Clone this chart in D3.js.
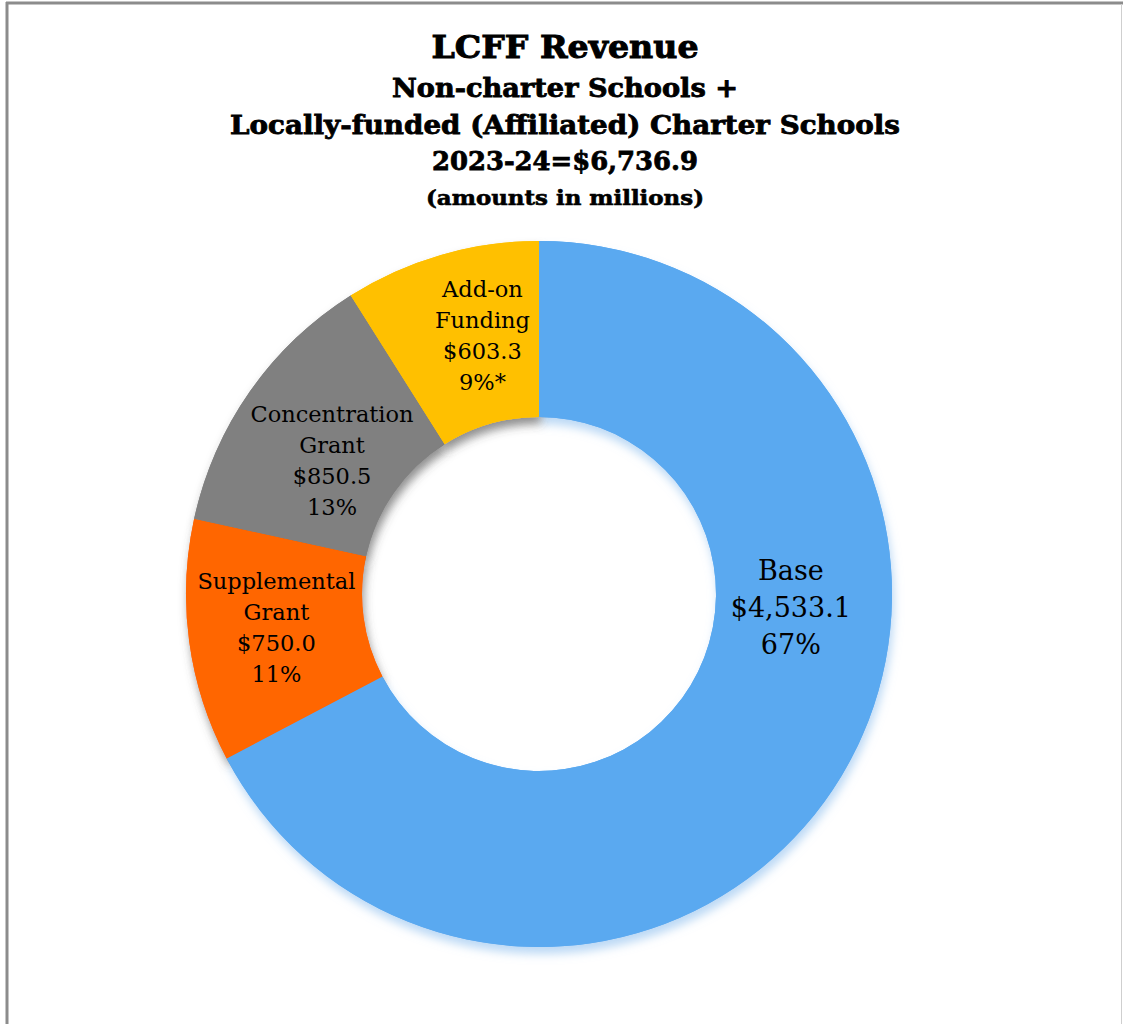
<!DOCTYPE html>
<html><head><meta charset="utf-8">
<script src="https://cdn.jsdelivr.net/npm/d3@7"></script>
<style>html,body{margin:0;padding:0;background:#fff;}svg{display:block;}</style>
</head><body>
<svg id="chart" width="1123" height="1024"></svg>
<script>
// ---- data ----
const categories = ["Base", "Supplemental Grant", "Concentration Grant", "Add-on Funding"];
const values = [4533.1, 750.0, 850.5, 603.3];
const labelLines = [
  ["Base", "$4,533.1", "67%"],
  ["Supplemental", "Grant", "$750.0", "11%"],
  ["Concentration", "Grant", "$850.5", "13%"],
  ["Add-on", "Funding", "$603.3", "9%*"]
];
const titleLines = ["LCFF Revenue", "Non-charter Schools +", "Locally-funded (Affiliated) Charter Schools", "2023-24=$6,736.9", "(amounts in millions)"];

// ---- style ----
const colors = ["#5AA9F0", "#FF6600", "#808080", "#FFC000"];
const shadowColors = ["#8fc0ee", "#555555", "#444444", "#444444"];
const labelOffsets = [[25, -123], [0, -2], [10, 19], [17, -4]];
const labelSize = [27, 22.5, 22.5, 22.5];
const labelLH = [37, 31, 31, 31];

const svg = d3.select("#chart");
const W = 1123, H = 1024;

// frame
svg.append("line").attr("x1", 7).attr("x2", 7).attr("y1", 2).attr("y2", H).attr("stroke", "#8c8c8c").attr("stroke-width", 3);
svg.append("line").attr("x1", 6).attr("x2", W).attr("y1", 3).attr("y2", 3).attr("stroke", "#8c8c8c").attr("stroke-width", 3);
svg.append("line").attr("x1", W - 1.5).attr("x2", W - 1.5).attr("y1", 4).attr("y2", H).attr("stroke", "#cfcfcf").attr("stroke-width", 1);

// title
const titleSpec = [
  {y: 58, size: 32, len: 267, sw: 1.0},
  {y: 97, size: 26, len: 346, sw: 0.8},
  {y: 134, size: 26, len: 670, sw: 0.8},
  {y: 170, size: 26, len: 266, sw: 0.8},
  {y: 205, size: 21, len: 278, sw: 0.6}
];
titleLines.forEach((t, i) => {
  svg.append("text")
    .attr("x", 565).attr("y", titleSpec[i].y)
    .attr("text-anchor", "middle")
    .attr("font-family", "DejaVu Serif, serif")
    .attr("font-weight", "bold")
    .attr("font-size", titleSpec[i].size)
    .attr("textLength", titleSpec[i].len)
    .attr("lengthAdjust", "spacingAndGlyphs")
    .attr("fill", "#000")
    .attr("stroke", "#000")
    .attr("stroke-width", titleSpec[i].sw)
    .text(t);
});

// donut
const cx = 539, cy = 594, outerR = 353, innerR = 177;
const data = categories.map((c, i) => ({cat: c, value: values[i], i}));
const pie = d3.pie().value(d => d.value).sort(null);
const arcs = pie(data);
const arc = d3.arc().innerRadius(innerR).outerRadius(outerR);
const midArc = d3.arc().innerRadius((innerR + outerR) / 2).outerRadius((innerR + outerR) / 2);

const defs = svg.append("defs");
shadowColors.forEach((c, i) => {
  const f = defs.append("filter").attr("id", "sh" + i)
    .attr("x", "-20%").attr("y", "-20%").attr("width", "140%").attr("height", "140%");
  f.append("feDropShadow").attr("dx", 2).attr("dy", 7).attr("stdDeviation", 5)
    .attr("flood-color", c).attr("flood-opacity", 0.6);
});

const g = svg.append("g").attr("transform", `translate(${cx},${cy})`);
g.selectAll("path.shadow").data(arcs).join("path")
  .attr("class", "shadow")
  .attr("d", arc)
  .attr("fill", d => colors[d.data.i])
  .attr("filter", d => `url(#sh${d.data.i})`);
g.selectAll("path.slice").data(arcs).join("path")
  .attr("class", "slice")
  .attr("d", arc)
  .attr("fill", d => colors[d.data.i]);

// labels
arcs.forEach(d => {
  const i = d.data.i;
  const [mx, my] = midArc.centroid(d);
  const lx = mx + labelOffsets[i][0], ly = my + labelOffsets[i][1];
  const lines = labelLines[i];
  const n = lines.length;
  const t = g.append("text")
    .attr("text-anchor", "middle")
    .attr("font-family", "DejaVu Serif, serif")
    .attr("font-size", labelSize[i])
    .attr("fill", "#000");
  lines.forEach((ln, k) => {
    t.append("tspan").attr("x", lx)
      .attr("y", ly + (k - (n - 1) / 2) * labelLH[i])
      .attr("dy", "0.35em")
      .text(ln);
  });
});
</script>
</body></html>
